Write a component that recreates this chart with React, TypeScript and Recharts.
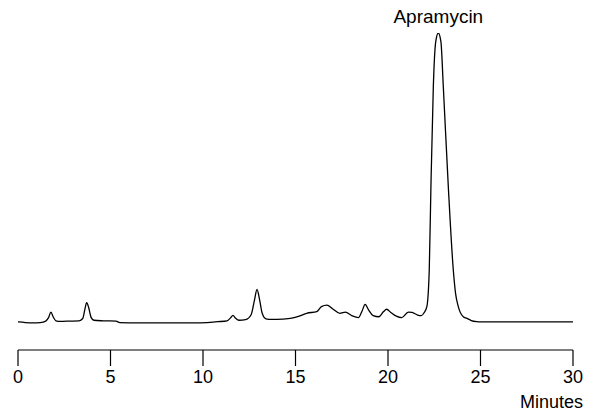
import { LineChart, Line, XAxis, YAxis, ReferenceDot } from "recharts";

// retention time (minutes) and detector response (% of apramycin peak)
const minutes = [
  0, 0.4, 0.8, 1.2, 1.5, 1.65, 1.78, 1.9, 2.05, 2.3, 2.8, 3.3, 3.5, 3.62, 3.71, 3.82, 3.95, 4.1, 4.6, 5.3,
  5.5, 6.5, 8, 9.5, 10.2, 10.8, 11.3, 11.5, 11.62, 11.75, 11.95, 12.3, 12.6, 12.78, 12.92, 13.05, 13.2, 13.4,
  13.7, 14.3, 14.8, 15.2, 15.6, 16.15, 16.4, 16.7, 17.0, 17.4, 17.7, 18.04, 18.4, 18.6, 18.76, 18.95, 19.2,
  19.5, 19.75, 19.93, 20.15, 20.45, 20.74, 21.1, 21.3, 21.6, 21.8, 21.95, 22.1, 22.23, 22.32, 22.45, 22.58,
  22.72, 22.86, 22.99, 23.26, 23.53, 23.65, 23.8, 24.07, 24.25, 24.5, 24.8, 25, 26, 28, 30,
];
const response = [
  0, -0.2, -0.3, -0.2, 0.3, 1.5, 3.4, 1.8, 0.4, 0.2, 0.3, 0.4, 1.2, 4.5, 6.7, 5.0, 1.6, 0.6, 0.4, 0.3,
  -0.2, -0.3, -0.3, -0.3, -0.2, 0.1, 0.4, 1.5, 2.3, 1.4, 0.6, 0.8, 2.5, 7.5, 11.3, 8, 3, 1.1,
  0.9, 1.0, 1.3, 2.0, 3.0, 3.6, 5.3, 5.8, 4.6, 3.0, 3.4, 2.2, 1.5, 3.8, 6.1, 4.2, 2.2,
  1.8, 3.5, 4.4, 3.3, 2.0, 1.5, 3.4, 3.3, 2.4, 2.2, 3.2, 5.3, 18, 46.8, 81.4, 97,
  100, 97, 81.4, 46.8, 18, 10, 5.3, 1.8, 1.3, 0.5, 0.1, 0, 0, 0, 0,
];
const xTicks = [0, 5, 10, 15, 20, 25, 30];
const axisTitle = "Minutes";
const peakName = "Apramycin";
const peakTime = 22.72;
const peakValue = 100;

const data = minutes.map((t, i) => ({ t, v: response[i] }));
const font = "'Liberation Sans', Arial, sans-serif";

export default function App() {
  return (
    <div style={{ position: "absolute", left: 0, top: 0, width: 593, height: 414, background: "#fff" }}>
      <LineChart width={593} height={414} data={data} margin={{ top: 33, right: 20, left: 18, bottom: 0 }}>
        <XAxis
          dataKey="t"
          type="number"
          domain={[0, 30]}
          ticks={xTicks}
          height={64}
          tickSize={16}
          tickMargin={4}
          axisLine={{ stroke: "#000", strokeWidth: 1.2 }}
          tickLine={{ stroke: "#000", strokeWidth: 1.2 }}
          tick={{ fill: "#000", fontSize: 18, fontFamily: font }}
          label={{
            content: ({ viewBox }: any) => (
              <text
                x={viewBox.x + viewBox.width + 10}
                y={408}
                textAnchor="end"
                fill="#000"
                fontSize={18}
                fontFamily={font}
              >
                {axisTitle}
              </text>
            ),
          }}
        />
        <YAxis hide domain={[-9.7, 100]} allowDataOverflow />
        <Line
          type="monotone"
          dataKey="v"
          stroke="#000"
          strokeWidth={1.3}
          dot={false}
          isAnimationActive={false}
        />
        <ReferenceDot
          x={peakTime}
          y={peakValue}
          r={0}
          fill="none"
          stroke="none"
          label={{ value: peakName, position: "top", offset: 10, fill: "#000", fontSize: 19, fontFamily: font }}
        />
      </LineChart>
    </div>
  );
}
